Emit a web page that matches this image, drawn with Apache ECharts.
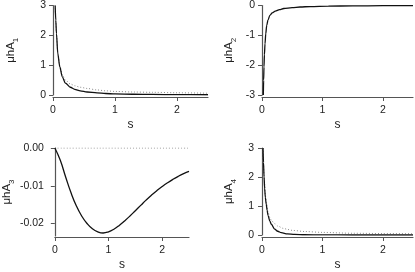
<!DOCTYPE html>
<html>
<head>
<meta charset="utf-8">
<script src="https://cdn.jsdelivr.net/npm/echarts@6/dist/echarts.min.js"></script>
<style>
  html, body { margin: 0; padding: 0; background: #fff; }
  #chart { width: 415px; height: 272px; }
</style>
</head>
<body>
<div id="chart"></div>
<script>
// panel 1: uhA1
var t1 = [0.035, 0.045, 0.056, 0.077, 0.11, 0.15, 0.2, 0.28, 0.35, 0.44, 0.55, 0.71, 0.85, 1.0, 1.3, 1.6, 2.0, 2.5];
var a1 = [3.0, 2.5, 2.06, 1.39, 0.94, 0.61, 0.40, 0.26, 0.19, 0.14, 0.10, 0.07, 0.05, 0.035, 0.025, 0.018, 0.013, 0.008];
var a1dot = [3.0, 2.5, 2.06, 1.42, 0.98, 0.68, 0.5, 0.37, 0.31, 0.26, 0.22, 0.17, 0.14, 0.12, 0.1, 0.09, 0.075, 0.06];

// panel 2: uhA2
var t2 = [0.022, 0.027, 0.033, 0.04, 0.05, 0.062, 0.078, 0.1, 0.13, 0.17, 0.22, 0.29, 0.36, 0.5, 0.63, 0.8, 1.1, 1.5, 2.0, 2.5];
var a2 = [-3.0, -2.5, -2.06, -1.65, -1.28, -0.95, -0.67, -0.48, -0.33, -0.25, -0.19, -0.14, -0.10, -0.07, -0.05, -0.035, -0.02, -0.012, -0.007, -0.004];

// panel 3: uhA3
var t3 = [0, 0.1, 0.2, 0.3, 0.4, 0.5, 0.6, 0.7, 0.8, 0.9, 1.0, 1.1, 1.2, 1.3, 1.4, 1.5, 1.6, 1.7, 1.8, 1.9, 2.0, 2.1, 2.2, 2.3, 2.4, 2.5];
var a3 = [0, -0.0032, -0.0076, -0.0118, -0.0153, -0.0180, -0.0200, -0.0214, -0.0222, -0.0225, -0.0222, -0.0215, -0.0205,
  -0.0193, -0.0180, -0.0166, -0.0152, -0.0138, -0.0125, -0.0113, -0.0102, -0.0092, -0.0083, -0.0075, -0.0068, -0.0062];
var t3dot = [0, 2.5];
var a3dot = [0, 0];

// panel 4: uhA4
var t4 = [0.017, 0.025, 0.034, 0.044, 0.055, 0.07, 0.085, 0.1, 0.13, 0.155, 0.21, 0.26, 0.32, 0.42, 0.54, 0.7, 1.0, 1.5, 2.5];
var a4 = [3.0, 2.5, 2.0, 1.61, 1.3, 1.06, 0.85, 0.67, 0.48, 0.37, 0.2, 0.13, 0.08, 0.04, 0.02, 0.008, 0.002, 0, 0];
var t4dot = [0.017, 0.034, 0.055, 0.07, 0.1, 0.13, 0.155, 0.21, 0.26, 0.35, 0.43, 0.5, 0.71, 1.0, 1.5, 2.0, 2.5];
var a4dot = [3.0, 2.05, 1.38, 1.14, 0.8, 0.6, 0.5, 0.39, 0.31, 0.23, 0.19, 0.16, 0.12, 0.09, 0.06, 0.05, 0.045];

var xTicks = [0, 1, 2];
var yTicks1 = [0, 1, 2, 3];
var yTicks2 = [-3, -2, -1, 0];
var yTicks3 = [-0.02, -0.01, 0];
var yTicks4 = [0, 1, 2, 3];

function pairs(t, v) {
  return t.map(function (x, i) { return [x, v[i]]; });
}

var font = 'Liberation Sans, Arial, sans-serif';
var axisCol = '#555';

function xAx(idx, off) {
  return {
    type: 'value', gridIndex: idx, min: 0, max: 2.5, offset: off,
    name: 's', nameLocation: 'middle', nameGap: 22,
    nameTextStyle: { fontFamily: font, fontSize: 12, color: '#222' },
    axisLine: { onZero: false, lineStyle: { color: axisCol, width: 1.2 } },
    axisTick: { length: 4, customValues: xTicks, lineStyle: { color: axisCol } },
    axisLabel: { customValues: xTicks, margin: 8, fontFamily: font, fontSize: 10.5, color: '#222' },
    splitLine: { show: false }
  };
}

function yAx(idx, min, max, ticks, n, fmt, gap, margin) {
  return {
    type: 'value', gridIndex: idx, min: min, max: max,
    name: '{m|μhA}{s|' + n + '}', nameLocation: 'middle', nameGap: gap, nameRotate: 90,
    nameTextStyle: {
      fontFamily: font, color: '#222',
      rich: {
        m: { fontFamily: font, fontSize: 11.5, color: '#222', lineHeight: 18, verticalAlign: 'middle' },
        s: { fontFamily: font, fontSize: 8, color: '#222', lineHeight: 18, verticalAlign: 'bottom' }
      }
    },
    axisLine: { onZero: false, lineStyle: { color: axisCol, width: 1.2 } },
    axisTick: { length: 4, customValues: ticks, lineStyle: { color: axisCol } },
    axisLabel: { customValues: ticks, margin: margin, fontFamily: font, fontSize: 10.5, color: '#222', formatter: fmt },
    splitLine: { show: false }
  };
}

function solid(idx, data, mono) {
  return {
    type: 'line', xAxisIndex: idx, yAxisIndex: idx, data: data, showSymbol: false,
    smooth: mono ? 0.3 : 0.5, smoothMonotone: mono ? 'x' : null, animation: false,
    lineStyle: { color: '#111', width: 1.3 }
  };
}
function dotted(idx, data) {
  return {
    type: 'line', xAxisIndex: idx, yAxisIndex: idx, data: data, showSymbol: false,
    smooth: 0.3, smoothMonotone: 'x', animation: false,
    lineStyle: { color: '#888', width: 1, type: [1, 2] }
  };
}

var chart = echarts.init(document.getElementById('chart'), null, { renderer: 'canvas' });
chart.setOption({
  backgroundColor: '#fff',
  animation: false,
  grid: [
    { left: 53, top: 5, width: 155, height: 90 },
    { left: 262, top: 5, width: 151, height: 90 },
    { left: 52, top: 148, width: 137, height: 91 },
    { left: 262, top: 148, width: 151, height: 90 }
  ],
  xAxis: [xAx(0, 2), xAx(1, 2), xAx(2, 1), xAx(3, 2)],
  yAxis: [
    yAx(0, 0, 3, yTicks1, 1, null, 33, 7),
    yAx(1, -3, 0, yTicks2, 2, null, 24, 7),
    yAx(2, -0.0233, 0, yTicks3, 3, function (v) { return v.toFixed(2); }, 33, 11),
    yAx(3, 0, 3, yTicks4, 4, null, 24, 8)
  ],
  series: [
    dotted(0, pairs(t1, a1dot)),
    solid(0, pairs(t1, a1), true),
    solid(1, pairs(t2, a2), true),
    dotted(2, pairs(t3dot, a3dot)),
    solid(2, pairs(t3, a3), false),
    dotted(3, pairs(t4dot, a4dot)),
    solid(3, pairs(t4, a4), true)
  ]
});
</script>
</body>
</html>
